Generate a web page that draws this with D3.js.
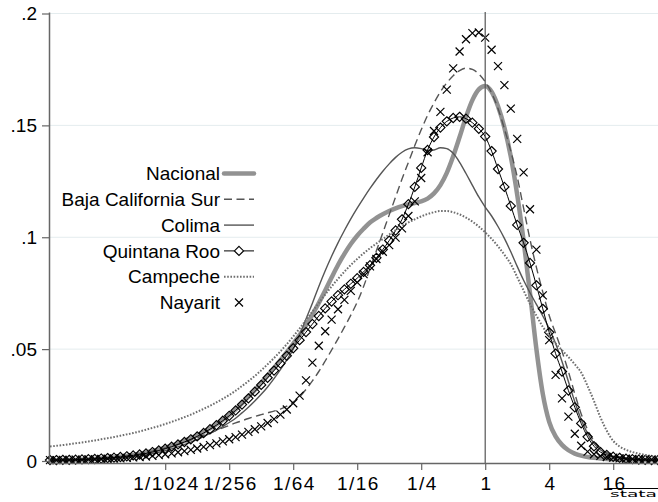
<!DOCTYPE html>
<html><head><meta charset="utf-8">
<script src="https://cdn.jsdelivr.net/npm/d3@7"></script>
<style>body{margin:0;background:#fff}svg{display:block}</style>
</head><body>
<script>
// evaluation grid: log2 of income ratio
const log2Ratio = [
-13.6,-13.4,-13.2,-13.0,-12.8,-12.6,-12.4,-12.2,-12.0,-11.8,
-11.6,-11.4,-11.2,-11.0,-10.8,-10.6,-10.4,-10.2,-10.0,-9.8,
-9.6,-9.4,-9.2,-9.0,-8.8,-8.6,-8.4,-8.2,-8.0,-7.8,
-7.6,-7.4,-7.2,-7.0,-6.8,-6.6,-6.4,-6.2,-6.0,-5.8,
-5.6,-5.4,-5.2,-5.0,-4.8,-4.6,-4.4,-4.2,-4.0,-3.8,
-3.6,-3.4,-3.2,-3.0,-2.8,-2.6,-2.4,-2.2,-2.0,-1.8,
-1.6,-1.4,-1.2,-1.0,-0.8,-0.6,-0.4,-0.2,0.0,0.2,
0.4,0.6,0.8,1.0,1.2,1.4,1.6,1.8,2.0,2.2,
2.4,2.6,2.8,3.0,3.2,3.4,3.6,3.8,4.0,4.2,
4.4,4.6,4.8,5.0,5.2,5.4];

const nacional = [
.0003,.0003,.0004,.0004,.0005,.0006,.0007,.0009,.0011,.0013,
.0016,.0019,.0023,.0027,.0032,.0038,.0045,.0052,.0060,.0069,
.0079,.0090,.0102,.0115,.0130,.0146,.0164,.0184,.0206,.0231,
.0258,.0287,.0317,.0349,.0382,.0416,.0451,.0487,.0524,.0563,
.0606,.0654,.0706,.0762,.0820,.0876,.0926,.0970,.1007,.1038,
.1066,.1086,.1103,.1117,.1129,.1139,.1147,.1153,.1160,.1173,
.1196,.1233,.1288,.1362,.1448,.1538,.1613,.1661,.1676,.1650,
.1585,.1490,.1360,.1190,.0985,.0750,.0500,.0300,.0175,.0110,
.0072,.0048,.0033,.0024,.0018,.0014,.0011,.0009,.0008,.0007,
.0006,.0005,.0005,.0004,.0004,.0004];

const bajaCaliforniaSur = [
.0002,.0003,.0003,.0004,.0005,.0006,.0007,.0009,.0011,.0013,
.0016,.0019,.0023,.0027,.0032,.0038,.0044,.0051,.0058,.0066,
.0075,.0084,.0094,.0104,.0115,.0126,.0137,.0148,.0159,.0170,
.0180,.0190,.0199,.0207,.0215,.0223,.0232,.0245,.0263,.0287,
.0320,.0358,.0400,.0447,.0496,.0546,.0598,.0652,.0710,.0780,
.0860,.0940,.1020,.1100,.1180,.1260,.1335,.1410,.1480,.1545,
.1600,.1650,.1690,.1722,.1745,.1756,.1750,.1730,.1695,.1645,
.1575,.1485,.1385,.1270,.1130,.0990,.0865,.0755,.0650,.0570,
.0490,.0400,.0300,.0210,.0140,.0090,.0058,.0038,.0026,.0019,
.0014,.0011,.0009,.0007,.0006,.0005];

const colima = [
.0002,.0002,.0002,.0003,.0003,.0004,.0005,.0006,.0007,.0009,
.0011,.0013,.0016,.0019,.0023,.0028,.0033,.0039,.0046,.0054,
.0063,.0073,.0084,.0096,.0109,.0123,.0138,.0154,.0172,.0191,
.0215,.0240,.0268,.0298,.0331,.0368,.0408,.0452,.0500,.0565,
.0635,.0705,.0780,.0850,.0915,.0975,.1030,.1082,.1130,.1175,
.1218,.1258,.1295,.1328,.1357,.1380,.1395,.1400,.1396,.1388,
.1390,.1400,.1396,.1375,.1335,.1285,.1232,.1180,.1135,.1095,
.1048,.0995,.0935,.0870,.0808,.0752,.0700,.0648,.0592,.0525,
.0445,.0355,.0265,.0185,.0122,.0078,.0050,.0033,.0022,.0015,
.0011,.0008,.0006,.0005,.0004,.0003];

const quintanaRoo = [
.0004,.0004,.0005,.0005,.0006,.0007,.0008,.0009,.0011,.0013,
.0015,.0018,.0021,.0025,.0029,.0034,.0040,.0047,.0055,.0064,
.0074,.0085,.0097,.0110,.0125,.0142,.0160,.0180,.0202,.0226,
.0252,.0280,.0310,.0340,.0372,.0404,.0436,.0470,.0504,.0540,
.0576,.0612,.0648,.0682,.0713,.0741,.0767,.0792,.0817,.0845,
.0875,.0908,.0945,.0985,.1030,.1080,.1148,.1225,.1310,.1390,
.1448,.1490,.1518,.1533,.1538,.1530,.1512,.1485,.1450,.1385,
.1305,.1225,.1140,.1055,.0975,.0885,.0785,.0680,.0575,.0480,
.0400,.0315,.0240,.0168,.0108,.0066,.0040,.0027,.0019,.0014,
.0010,.0008,.0006,.0005,.0004,.0004];

const campeche = [
.0065,.0068,.0071,.0075,.0079,.0083,.0087,.0092,.0097,.0102,
.0107,.0113,.0119,.0125,.0132,.0140,.0148,.0156,.0165,.0175,
.0185,.0196,.0207,.0220,.0233,.0247,.0262,.0278,.0295,.0314,
.0335,.0357,.0380,.0405,.0432,.0460,.0490,.0522,.0556,.0592,
.0630,.0668,.0706,.0744,.0780,.0814,.0846,.0876,.0903,.0928,
.0951,.0972,.0992,.1012,.1032,.1050,.1066,.1080,.1093,.1104,
.1112,.1117,.1117,.1112,.1102,.1088,.1070,.1048,.1022,.0993,
.0960,.0922,.0880,.0822,.0762,.0702,.0650,.0600,.0560,.0525,
.0495,.0465,.0432,.0395,.0335,.0268,.0195,.0135,.0090,.0065,
.0050,.0040,.0033,.0027,.0022,.0018];

const nayarit = [
.0004,.0004,.0005,.0005,.0006,.0006,.0007,.0008,.0009,.0010,
.0011,.0012,.0014,.0016,.0018,.0020,.0023,.0026,.0030,.0034,
.0039,.0044,.0050,.0056,.0063,.0071,.0079,.0088,.0097,.0107,
.0118,.0130,.0142,.0155,.0170,.0187,.0207,.0230,.0258,.0292,
.0360,.0440,.0515,.0580,.0632,.0678,.0720,.0760,.0798,.0835,
.0870,.0903,.0935,.0965,.0998,.1040,.1095,.1160,.1265,.1380,
.1475,.1560,.1660,.1755,.1830,.1885,.1912,.1915,.1892,.1838,
.1765,.1680,.1575,.1440,.1290,.1125,.0945,.0740,.0540,.0385,
.0280,.0198,.0122,.0068,.0042,.0030,.0023,.0018,.0015,.0012,
.0010,.0009,.0008,.0007,.0006,.0005];

const seriesNames = ["Nacional","Baja California Sur","Colima","Quintana Roo","Campeche","Nayarit"];
const xTickLog2 = [-10,-8,-6,-4,-2,0,2,4];
const xTickLabels = ["1/1024","1/256","1/64","1/16","1/4","1","4","16"];
const yTickValues = [0,0.05,0.1,0.15,0.2];
const yTickLabels = ["0",".05",".1",".15",".2"];

const W = 658, H = 502;
const FONT = "'Liberation Sans', Arial, Helvetica, sans-serif";
const svg = d3.select("body").append("svg").attr("width", W).attr("height", H)
  .style("font-family", FONT);
svg.append("rect").attr("width", W).attr("height", H).attr("fill", "#fff");

const x = d3.scaleLinear().domain([-13.6, 5.4]).range([50, 658]);
const y = d3.scaleLinear().domain([0, 0.2]).range([461, 13.5]);

// gridlines
svg.append("g").selectAll("line").data(yTickValues.filter(v => v > 0)).join("line")
  .attr("x1", 49).attr("x2", 658).attr("y1", d => y(d)).attr("y2", d => y(d))
  .attr("stroke", "#e4ecee").attr("stroke-width", 1);

const styles = [
  {data: nacional, stroke: "#929292", width: 4.5, dash: null},
  {data: bajaCaliforniaSur, stroke: "#555", width: 1.4, dash: "8,4.5"},
  {data: colima, stroke: "#555", width: 1.4, dash: null},
  {data: quintanaRoo, stroke: "#000", width: 1, dash: null, marker: "diamond"},
  {data: campeche, stroke: "#6e6e6e", width: 2, dash: "1.6,1.6"},
  {data: nayarit, stroke: null, width: 0, dash: null, marker: "x"}
];

const line = d3.line().x(d => x(d[0])).y(d => y(d[1])).curve(d3.curveMonotoneX);
const diamond = r => `M0,${-r}L${r},0L0,${r}L${-r},0Z`;
const cross = r => `M${-r},${-r}L${r},${r}M${-r},${r}L${r},${-r}`;

const plot = svg.append("g");
styles.forEach((s, i) => {
  const pts = log2Ratio.map((u, k) => [u, s.data[k]]);
  if (s.stroke) {
    plot.append("path").datum(pts).attr("d", line).attr("fill", "none")
      .attr("stroke", s.stroke).attr("stroke-width", s.width)
      .attr("stroke-linejoin", "round")
      .attr("stroke-dasharray", s.dash);
  }
  if (s.marker === "diamond") {
    plot.append("g").selectAll("path").data(pts).join("path")
      .attr("transform", d => `translate(${x(d[0])},${y(d[1])})`)
      .attr("d", diamond(4.6)).attr("fill", "none").attr("stroke", "#000").attr("stroke-width", 1.15);
  }
  if (s.marker === "x") {
    plot.append("g").selectAll("path").data(pts).join("path")
      .attr("transform", d => `translate(${x(d[0])},${y(d[1])})`)
      .attr("d", cross(4)).attr("fill", "none").attr("stroke", "#000").attr("stroke-width", 1.2);
  }
});

// reference line at ratio 1
svg.append("line").attr("x1", x(0)).attr("x2", x(0)).attr("y1", 12).attr("y2", 463)
  .attr("stroke", "#555").attr("stroke-width", 1.2);

// axes
const yAxis = svg.append("g").attr("transform", "translate(49,0)")
  .call(d3.axisLeft(y).tickValues(yTickValues).tickFormat((d, i) => yTickLabels[i])
    .tickSize(7).tickSizeOuter(0).tickPadding(5));
yAxis.select(".domain").attr("d", "M0.5,12.5V463").attr("stroke", "#666").attr("stroke-width", 1.5);
yAxis.selectAll(".tick line").attr("stroke", "#666").attr("stroke-width", 1.2);
yAxis.selectAll("text").attr("font-size", 19).attr("fill", "#000").attr("font-family", FONT);

const xAxis = svg.append("g").attr("transform", "translate(0,463)")
  .call(d3.axisBottom(x).tickValues(xTickLog2).tickFormat((d, i) => xTickLabels[i])
    .tickSize(7).tickSizeOuter(0).tickPadding(7));
xAxis.select(".domain").attr("d", "M49,0.5H658").attr("stroke", "#666").attr("stroke-width", 1.5);
xAxis.selectAll(".tick line").attr("stroke", "#666").attr("stroke-width", 1.2);
xAxis.selectAll("text").attr("font-size", 19).attr("fill", "#000").attr("font-family", FONT)
  .attr("letter-spacing", 1.4).attr("dx", 0.7);

// legend
const leg = svg.append("g");
seriesNames.forEach((name, i) => {
  const s = styles[i];
  const cy = 173.5 + i * 25.8;
  leg.append("text").attr("x", 220).attr("y", cy).attr("dy", "0.35em")
    .attr("text-anchor", "end").attr("font-size", 19).text(name);
  if (s.stroke) {
    if (s.marker === "diamond") {
      leg.append("line").attr("x1", 224).attr("x2", 234.4).attr("y1", cy).attr("y2", cy)
        .attr("stroke", s.stroke).attr("stroke-width", s.width);
      leg.append("line").attr("x1", 243.6).attr("x2", 254).attr("y1", cy).attr("y2", cy)
        .attr("stroke", s.stroke).attr("stroke-width", s.width);
    } else {
      leg.append("line").attr("x1", 224).attr("x2", 254).attr("y1", cy).attr("y2", cy)
        .attr("stroke", s.stroke).attr("stroke-width", s.width)
        .attr("stroke-dasharray", s.dash).attr("stroke-linecap", i === 0 ? "round" : "butt");
    }
  }
  if (s.marker === "diamond") {
    leg.append("path").attr("transform", `translate(239,${cy})`).attr("d", diamond(4.6))
      .attr("fill", "none").attr("stroke", "#000").attr("stroke-width", 1.15);
  }
  if (s.marker === "x") {
    leg.append("path").attr("transform", `translate(239,${cy})`).attr("d", cross(4))
      .attr("fill", "none").attr("stroke", "#000").attr("stroke-width", 1.2);
  }
});

// stata logo mark
svg.append("line").attr("x1", 609).attr("x2", 658).attr("y1", 488.5).attr("y2", 488.5)
  .attr("stroke", "#000").attr("stroke-width", 1);
svg.append("text").attr("x", 610).attr("y", 497).attr("font-size", 8.5)
  .attr("textLength", 47).attr("lengthAdjust", "spacingAndGlyphs")
  .attr("font-family", "'DejaVu Sans', sans-serif").text("stata");
</script>
</body></html>
